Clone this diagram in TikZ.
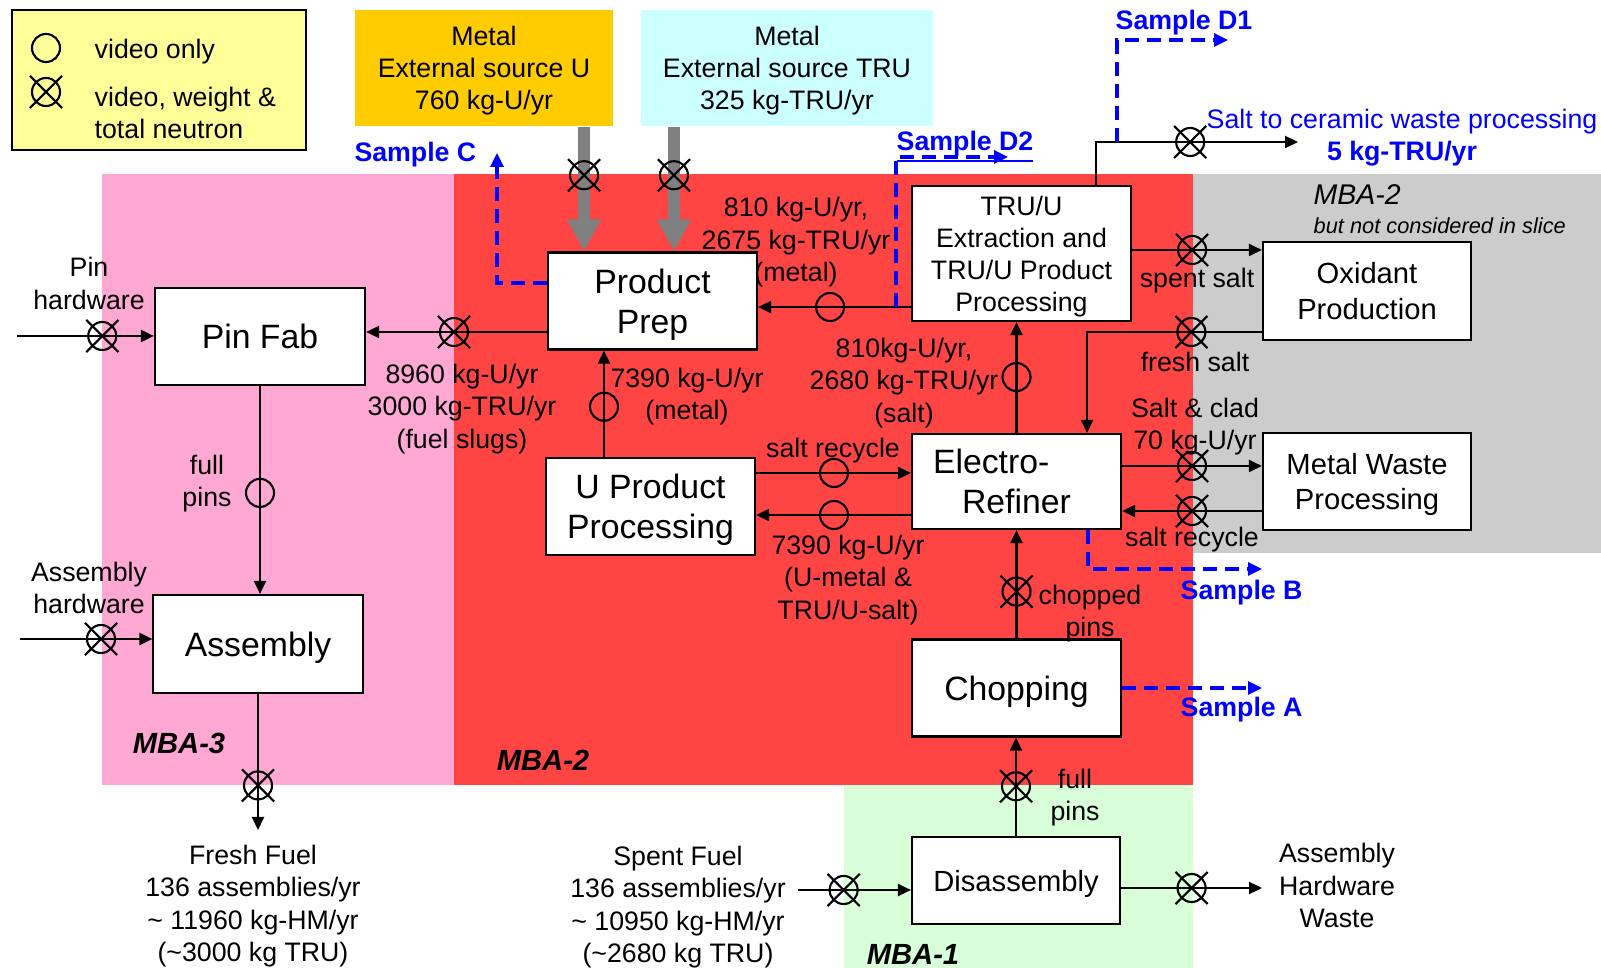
\documentclass[tikz,border=0pt]{standalone}
\usepackage{fontspec}
\setmainfont{Liberation Sans}
\usetikzlibrary{arrows.meta,positioning,shapes.misc}

\definecolor{legendyellow}{RGB}{255,255,153}
\definecolor{sourceorange}{RGB}{255,204,0}
\definecolor{sourcecyan}{RGB}{204,255,255}
\definecolor{mbapink}{RGB}{255,168,212}
\definecolor{mbared}{RGB}{255,68,68}
\definecolor{mbagray}{RGB}{204,204,204}
\definecolor{mbagreen}{RGB}{216,255,216}

\begin{document}
\begin{tikzpicture}[
  x=0.01cm, y=-0.01cm,
  unit/.style={
    draw=black,
    line width=0.6pt,
    fill=white,
    align=center,
    minimum width=2.09cm,
    minimum height=0.97cm,
    inner sep=0pt,
    text depth=0pt,
    font=\fontsize{9.6}{11.4}\selectfont
  },
  side unit/.style={
    unit,
    font=\fontsize{8.3}{10}\selectfont
  },
  source/.style={
    align=center,
    minimum width=2.58cm,
    minimum height=1.16cm,
    inner sep=0pt,
    text depth=0pt,
    font=\fontsize{7.6}{9.1}\selectfont
  },
  rate/.style={
    align=center,
    inner sep=0pt,
    text depth=0pt,
    font=\fontsize{7.6}{9.25}\selectfont
  },
  sample label/.style={
    text=blue,
    inner sep=0pt,
    text depth=0pt,
    font=\fontsize{7.6}{9.25}\selectfont\bfseries
  },
  mba label/.style={
    inner sep=0pt,
    text depth=0pt,
    font=\fontsize{8.3}{10}\selectfont\bfseries\itshape
  },
  video/.style={circle,draw=black,solid,line width=0.6pt,arrows=-,
    minimum size=0.28cm,inner sep=0pt},
  weighed/.style={cross out,draw=black,solid,line width=0.6pt,arrows=-,
    minimum size=0.30cm,inner sep=0pt,label={[video]center:}},
  flow/.style={-{Triangle[length=0.13cm,width=0.12cm]},line width=0.6pt},
  feed/.style={draw=black!50,line width=0.12cm,
    -{Triangle[length=0.32cm,width=0.32cm]}},
  sample/.style={draw=blue,line width=0.9pt,dash pattern=on 0.14cm off 0.08cm,
    -{Triangle[length=0.14cm,width=0.13cm]}}
]
  \useasboundingbox (0,0) rectangle (1601,968);

  \fill[mbapink] (102,174) rectangle (454,785);
  \fill[mbared] (454,174) rectangle (1193,785);
  \fill[mbagray] (1193,174) rectangle (1601,553);
  \fill[mbagreen] (844,785) rectangle (1193,968);

  \node[mba label] (mba-3) at (179,743) {MBA-3};
  \node[mba label] (mba-2) at (543,760) {MBA-2};
  \node[mba label] (mba-1) at (913,954) {MBA-1};
  \node[anchor=west,inner sep=0pt,text depth=0pt,font=\fontsize{8.1}{10}\selectfont\itshape]
    (mba-2-side) at (1313,195) {MBA-2};
  \node[anchor=west,inner sep=0pt,text depth=0pt,font=\fontsize{6.2}{8}\selectfont\itshape]
    (mba-2-note) at (1313,226) {but not considered in slice};

  \node[draw=black,line width=0.6pt,fill=legendyellow,
    minimum width=2.94cm,minimum height=1.40cm] (legend) at (159,80) {};
  \node[video] (legend-video) at (46,48) {};
  \node[weighed] (legend-weighed) at (46,92) {};
  \node[rate,anchor=west] (legend-video-text) at (94,49) {video only};
  \node[rate,anchor=west,align=left] (legend-weighed-text) at (94,113)
    {video, weight \&\\total neutron};

  \node[source,fill=sourceorange] (metal-u) at (484,68)
    {Metal\\External source U\\760 kg-U/yr};
  \node[source,fill=sourcecyan,minimum width=2.92cm] (metal-tru) at (787,68)
    {Metal\\External source TRU\\325 kg-TRU/yr};

  \node[unit,minimum width=2.10cm] (pin-fab) at (260,336.5) {Pin Fab};
  \node[unit,minimum height=0.98cm] (assembly) at (258,644) {Assembly};
  \node[unit] (product-prep) at (652.5,301) {Product\\Prep};
  \node[unit] (u-product) at (650.5,506.5) {U Product\\Processing};
  \node[unit,minimum width=2.19cm,minimum height=1.35cm,
    font=\fontsize{7.6}{9.1}\selectfont] (tru-extraction) at (1021.5,253.5)
    {TRU/U\\Extraction and\\TRU/U Product\\Processing};
  \node[unit,minimum height=0.95cm] (electro-refiner) at (1016.5,481.5)
    {Electro-\makebox[1.5em]{}\\Refiner};
  \node[unit] (chopping) at (1016.5,688) {Chopping};
  \node[side unit,minimum width=2.08cm,minimum height=0.87cm] (disassembly)
    at (1016,880.5) {Disassembly};
  \node[side unit,minimum width=2.08cm,minimum height=0.98cm] (oxidant)
    at (1367,291) {Oxidant\\Production};
  \node[side unit,minimum width=2.08cm] (metal-waste) at (1367,481.5)
    {Metal Waste\\Processing};

  \coordinate (pin-hw) at (17,336);
  \draw[flow] (pin-hw) -- node[weighed,pos=0.623] {} (pin-hw -| pin-fab.west);
  \node[rate] (pin-hw-text) at (89,283.5) {Pin\\hardware};

  \draw[flow] ([yshift=-0.31cm]product-prep.west)
    -- node[weighed,pos=0.514] {} ([yshift=-0.31cm]product-prep.west -| pin-fab.east);
  \node[rate] (slugs-text) at (462,406) {8960 kg-U/yr\\3000 kg-TRU/yr\\(fuel slugs)};

  \draw[flow] (pin-fab.south) -- node[video,pos=0.514] {} (pin-fab.south |- assembly.north);
  \node[rate] (pins-text) at (207,481) {full\\pins};

  \coordinate (asm-hw) at (20,639);
  \draw[flow] (asm-hw) -- node[weighed,pos=0.612] {} (asm-hw -| assembly.west);
  \node[rate] (asm-hw-text) at (89,588) {Assembly\\hardware};

  \coordinate (fresh-fuel) at (258,830);
  \draw[flow] (assembly.south) -- node[weighed,pos=0.672] {} (fresh-fuel);
  \node[rate] (fresh-fuel-text) at (253,903.5)
    {Fresh Fuel\\136 assemblies/yr\\\textasciitilde{} 11960 kg-HM/yr\\(\textasciitilde3000 kg TRU)};

  \draw[feed] ([xshift=1cm]metal-u.south)
    -- node[weighed,pos=0.389] {} ([xshift=1cm]metal-u.south |- product-prep.north);
  \draw[feed] ([xshift=-1.13cm]metal-tru.south)
    -- node[weighed,pos=0.389] {} ([xshift=-1.13cm]metal-tru.south |- product-prep.north);

  \coordinate (sample-c) at (497,153);
  \draw[sample] ([yshift=0.18cm]product-prep.west) -| (sample-c);
  \node[sample label,anchor=east] (sample-c-text) at (477,152) {Sample C};

  \draw[flow] ([yshift=-0.535cm]tru-extraction.west)
    -- node[video,pos=0.529] {} ([yshift=-0.535cm]tru-extraction.west -| product-prep.east);
  \node[rate] (metal-rate) at (796,239.5) {810 kg-U/yr,\\2675 kg-TRU/yr\\(metal)};

  \coordinate (sample-d2-root) at (896,307);
  \coordinate (sample-d2) at (1008,157);
  \draw[sample] (sample-d2-root) |- (sample-d2);
  \node[sample label,anchor=west] (sample-d2-text) at (896,141) {\underline{Sample D2}};

  \coordinate (ceramic) at (1298,142);
  \draw[flow] ([xshift=0.745cm]tru-extraction.north) |- node[weighed,pos=0.733] {} (ceramic);
  \node[rate,text=blue] (ceramic-text) at (1402,135)
    {Salt to ceramic waste processing\\\textbf{5 kg-TRU/yr}};

  \coordinate (sample-d1-root) at (1117,142);
  \coordinate (sample-d1) at (1228,40);
  \draw[sample] (sample-d1-root) |- (sample-d1);
  \node[sample label,anchor=west] (sample-d1-text) at (1115,20) {Sample D1};

  \draw[flow] ([yshift=0.035cm]tru-extraction.east)
    -- node[weighed,pos=0.462] {} ([yshift=0.035cm]tru-extraction.east -| oxidant.west);
  \node[rate] (spent-salt-text) at (1197,278) {spent salt};

  \draw[flow] ([yshift=-0.41cm]oxidant.west)
    -| node[weighed,pos=0.2017] {} ([xshift=0.705cm]electro-refiner.north);
  \node[rate] (fresh-salt-text) at (1195,362) {fresh salt};

  \draw[flow] ([yshift=0.155cm]electro-refiner.east)
    -- node[weighed,pos=0.5] {} ([yshift=0.155cm]electro-refiner.east -| metal-waste.west);
  \node[rate] (clad-text) at (1195,424) {Salt \& clad\\70 kg-U/yr};

  \draw[flow] ([yshift=-0.295cm]metal-waste.west)
    -- node[weighed,pos=0.5] {} ([yshift=-0.295cm]metal-waste.west -| electro-refiner.east);
  \node[rate] (waste-recycle-text) at (1192,537) {salt recycle};

  \draw[flow] (electro-refiner.north)
    -- node[video,pos=0.504] {} (electro-refiner.north |- tru-extraction.south);
  \node[rate] (salt-rate) at (904,380) {810kg-U/yr,\\2680 kg-TRU/yr\\(salt)};

  \draw[flow] ([xshift=-0.465cm]u-product.north)
    -- node[video,pos=0.472] {} ([xshift=-0.465cm]u-product.north |- product-prep.south);
  \node[rate] (u-metal-text) at (687,394) {7390 kg-U/yr\\(metal)};

  \draw[flow] ([yshift=0.335cm]u-product.east)
    -- node[video,pos=0.503] {} ([yshift=0.335cm]u-product.east -| electro-refiner.west);
  \node[rate] (u-recycle-text) at (833,448) {salt recycle};

  \draw[flow] ([yshift=-0.335cm]electro-refiner.west)
    -- node[video,pos=0.497] {} ([yshift=-0.335cm]electro-refiner.west -| u-product.east);
  \node[rate] (u-salt-text) at (848,577) {7390 kg-U/yr\\(U-metal \&\\TRU/U-salt)};

  \draw[flow] (chopping.north)
    -- node[weighed,pos=0.432] {} (chopping.north |- electro-refiner.south);
  \node[rate] (chopped-text) at (1090,611) {chopped\\pins};

  \coordinate (sample-b) at (1262,569);
  \draw[sample] ([xshift=0.715cm]electro-refiner.south) |- (sample-b);
  \node[sample label,anchor=west] (sample-b-text) at (1180,590) {Sample B};

  \coordinate (sample-a) at (1262,688);
  \draw[sample] (chopping.east) -- (sample-a);
  \node[sample label,anchor=west] (sample-a-text) at (1180,707) {Sample A};

  \draw[flow] (disassembly.north)
    -- node[weighed,pos=0.505] {} (disassembly.north |- chopping.south);
  \node[rate] (disasm-pins-text) at (1075,795) {full\\pins};

  \coordinate (spent-fuel) at (798,890);
  \draw[flow] (spent-fuel) -- node[weighed,pos=0.404] {} (spent-fuel -| disassembly.west);
  \node[rate] (spent-fuel-text) at (678,904.5)
    {Spent Fuel\\136 assemblies/yr\\\textasciitilde{} 10950 kg-HM/yr\\(\textasciitilde2680 kg TRU)};

  \coordinate (hw-waste) at (1262,888);
  \draw[flow] (hw-waste -| disassembly.east) -- node[weighed,pos=0.5] {} (hw-waste);
  \node[rate] (hw-waste-text) at (1337,885.5) {Assembly\\Hardware\\Waste};
\end{tikzpicture}
\end{document}
